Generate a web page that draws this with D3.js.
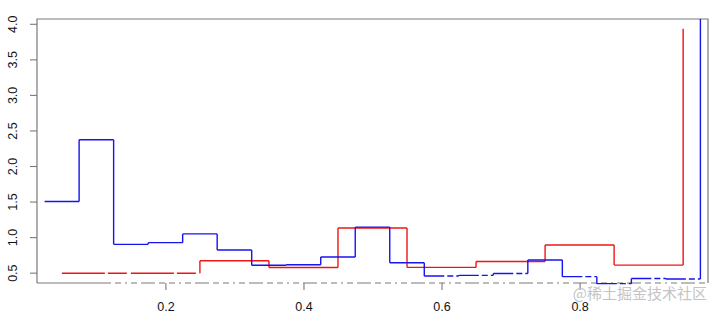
<!DOCTYPE html>
<html><head><meta charset="utf-8">
<script src="https://cdn.jsdelivr.net/npm/d3@7"></script>
<style>
body{margin:0;background:#fff}
svg text{font-family:"Liberation Sans",Arial,Helvetica,sans-serif}
</style>
</head><body>
<svg id="chart" width="715" height="315"></svg>
<script>
// ---- data ----
const redX  = [0.05, 0.15, 0.25, 0.35, 0.45, 0.55, 0.65, 0.75, 0.85, 0.95];
const redY  = [0.492, 0.492, 0.668, 0.572, 1.127, 0.574, 0.657, 0.889, 0.606, 3.93];
const blueX = [0.025, 0.075, 0.125, 0.175, 0.225, 0.275, 0.325, 0.375, 0.425, 0.475,
               0.525, 0.575, 0.625, 0.675, 0.725, 0.775, 0.825, 0.875, 0.925, 0.975];
const blueY = [1.50, 2.37, 0.898, 0.922, 1.045, 0.818, 0.605, 0.612, 0.72, 1.14,
               0.64, 0.452, 0.462, 0.488, 0.678, 0.444, 0.345, 0.418, 0.41, 4.6];
const xTicks = [0.2, 0.4, 0.6, 0.8];
const yTicks = [0.5, 1.0, 1.5, 2.0, 2.5, 3.0, 3.5, 4.0];
const xDomain = [0.014, 0.986];
const yDomain = [0.3545, 4.0675];
const watermark = "@稀土掘金技术社区";

// ---- layout ----
const L = 37, R = 708, T = 19, B = 283;
const svg = d3.select("#chart");
const x = d3.scaleLinear().domain(xDomain).range([L, R]);
const y = d3.scaleLinear().domain(yDomain).range([B, T]);
const boxColor = "#7a7a7a";

svg.append("defs").append("clipPath").attr("id", "clip")
  .append("rect").attr("x", L).attr("y", T).attr("width", R - L).attr("height", B - T + 1.5);

// ---- box ----
const box = svg.append("g").attr("stroke", boxColor).attr("stroke-width", 1.2).attr("fill", "none");
box.append("path").attr("d", `M${L},${B}V${T}H${R}V${B}`);
box.append("line").attr("x1", L).attr("x2", 105).attr("y1", B).attr("y2", B);
box.append("line").attr("x1", 105).attr("x2", R).attr("y1", B).attr("y2", B)
  .attr("stroke-dasharray", "6,4,6,4,2,4,6,4,14,4");

// ---- axes ----
const xAxis = svg.append("g").attr("transform", `translate(0,${B})`)
  .call(d3.axisBottom(x).tickValues(xTicks).tickSize(7).tickFormat(d3.format(".1f")));
xAxis.select(".domain").remove();
xAxis.selectAll("line").attr("stroke", boxColor).attr("stroke-width", 1.1);
xAxis.selectAll("text").attr("y", 19).attr("dy", "0.71em")
  .attr("font-size", 12.5).attr("fill", "#111");

const yAxis = svg.append("g").attr("transform", `translate(${L},0)`)
  .call(d3.axisLeft(y).tickValues(yTicks).tickSize(7).tickFormat(d3.format(".1f")));
yAxis.select(".domain").remove();
yAxis.selectAll("line").attr("stroke", boxColor).attr("stroke-width", 1.1);
yAxis.selectAll(".tick text")
  .attr("x", null).attr("dy", "0.35em")
  .attr("transform", "translate(-24,0) rotate(-90)")
  .attr("text-anchor", "middle").attr("font-size", 12.5).attr("fill", "#111");

// ---- step lines (R type = "s") drawn as segments ----
function drawSteps(xs, ys, color, dash) {
  const g = svg.append("g").attr("clip-path", "url(#clip)")
    .attr("stroke", color).attr("stroke-width", 1.4).attr("fill", "none");
  const segs = d3.range(xs.length - 1).map(i => ({x0: xs[i], x1: xs[i + 1], v0: ys[i], v1: ys[i + 1]}));
  g.selectAll("line.h").data(segs).join("line").attr("class", "h")
    .attr("x1", d => x(d.x0)).attr("x2", d => x(d.x1))
    .attr("y1", d => y(d.v0)).attr("y2", d => y(d.v0))
    .attr("stroke-dasharray", d => d.v0 < 0.495 ? dash : null);
  g.selectAll("line.v").data(segs).join("line").attr("class", "v")
    .attr("x1", d => x(d.x1)).attr("x2", d => x(d.x1))
    .attr("y1", d => y(d.v0)).attr("y2", d => y(d.v1));
}
drawSteps(redX, redY, "#f01414", "43,3,19,4,7,4");
drawSteps(blueX, blueY, "#1414f0", "20,3,6,3");

// ---- watermark ----
svg.append("text").attr("x", 707).attr("y", 299).attr("text-anchor", "end")
  .attr("font-size", 15).attr("fill", "#c4c4c4")
  .style("font-family", "'Noto Sans CJK SC', sans-serif")
  .text(watermark);
</script>
</body></html>
